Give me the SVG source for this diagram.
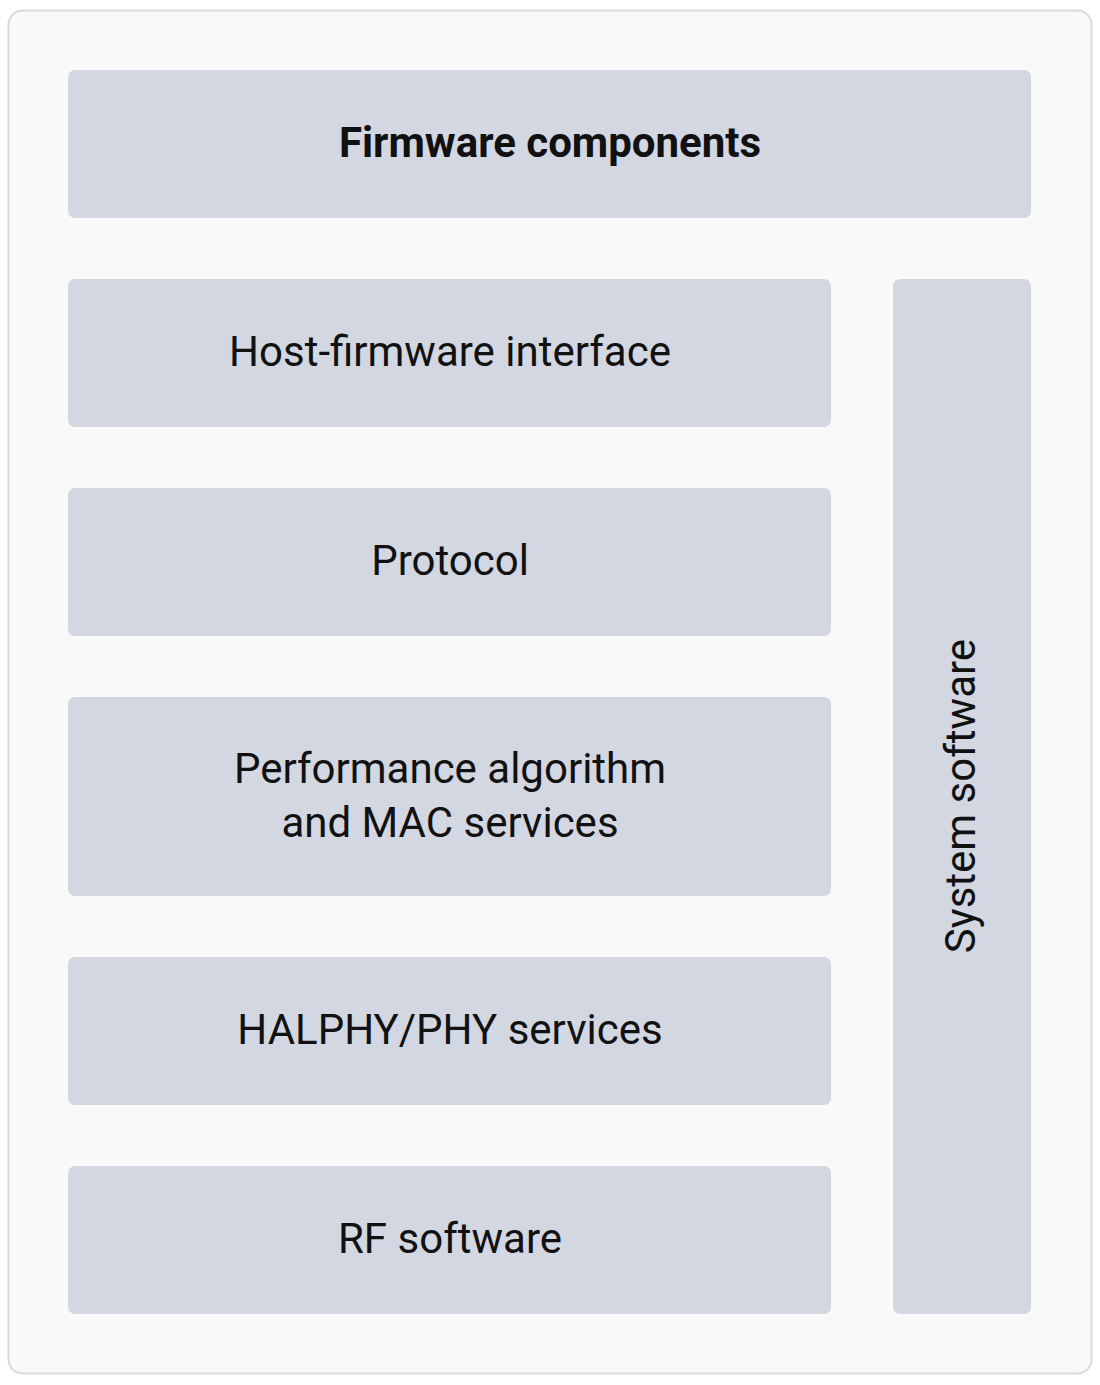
<svg xmlns="http://www.w3.org/2000/svg" width="1100" height="1385" viewBox="0 0 1100 1385">
<style>
.b{fill:#d3d7e1}
.t{font-family:Roboto,"Liberation Sans",sans-serif;font-size:42px;fill:#111;text-anchor:middle;dominant-baseline:central}
</style>
<rect x="8.5" y="10.5" width="1083" height="1363" rx="14" fill="#f9f9f9" stroke="#d9d9e0" stroke-width="2"/>
<g id="title"><rect class="b" x="68" y="70" width="963" height="148" rx="7"/><text class="t" x="550" y="142" font-weight="bold">Firmware components</text></g>
<g id="host"><rect class="b" x="68" y="279" width="763" height="148" rx="7"/><text class="t" x="450" y="351">Host-firmware interface</text></g>
<g id="protocol"><rect class="b" x="68" y="488" width="763" height="148" rx="7"/><text class="t" x="450" y="560">Protocol</text></g>
<g id="perf"><rect class="b" x="68" y="697" width="763" height="199" rx="7"/><text class="t" x="450" y="768">Performance algorithm</text><text class="t" x="450" y="822">and MAC services</text></g>
<g id="halphy"><rect class="b" x="68" y="957" width="763" height="148" rx="7"/><text class="t" x="450" y="1029">HALPHY/PHY services</text></g>
<g id="rf"><rect class="b" x="68" y="1166" width="763" height="148" rx="7"/><text class="t" x="450" y="1238">RF software</text></g>
<g id="system"><rect class="b" x="893" y="279" width="138" height="1035" rx="7"/><text class="t" transform="translate(960,796) rotate(-90)">System software</text></g>
<g id="connectors"/>
</svg>
